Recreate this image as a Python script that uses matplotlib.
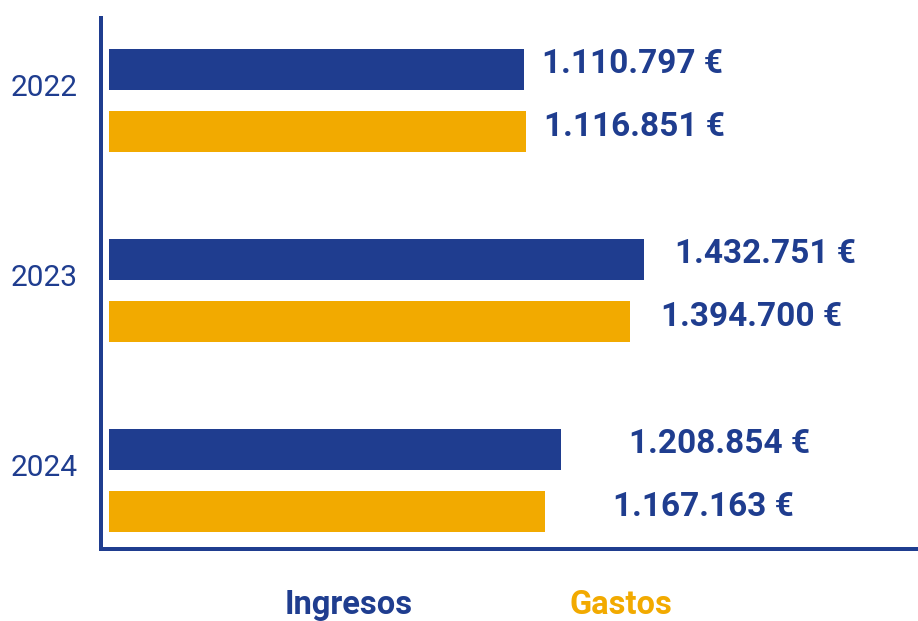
import matplotlib.pyplot as plt
import numpy as np

years = ['2022', '2023', '2024']
ingresos = [1110797, 1432751, 1208854]
gastos = [1116851, 1394700, 1167163]

NAVY = '#1F3D8F'
ORANGE = '#F2AA00'
PX = 72 / 100  # points per pixel at dpi 100


def fmt(v):
    return '{:,}'.format(v).replace(',', '.') + ' €'


plt.rcParams['font.family'] = ['Roboto', 'DejaVu Sans']

fig = plt.figure(figsize=(9.18, 6.21), dpi=100)
ax = fig.add_axes([101 / 918, 1 - 549 / 621, 817 / 918, 531 / 621])

pos = np.arange(len(years))
off = 0.165
h = 0.216
ax.barh(pos - off, ingresos, height=h, color=NAVY)
ax.barh(pos + off, gastos, height=h, color=ORANGE)

# label gaps (px) per year, labels sit a bit above bar centre
pads = [18, 31, 68]
for i in range(len(years)):
    for v, y in ((ingresos[i], pos[i] - off), (gastos[i], pos[i] + off)):
        ax.annotate(fmt(v), (v, y), xytext=(pads[i] * PX, 5 * PX),
                    textcoords='offset points', ha='left', va='center',
                    fontsize=24, fontweight='bold', color=NAVY)

ax.set_xlim(-21400, 2164800)
ax.set_ylim(2.361, -0.434)

ax.set_yticks(pos - 0.079)
ax.set_yticklabels(years, fontsize=21.5, color=NAVY)
ax.tick_params(axis='y', length=0, pad=17)
ax.set_xticks([])

for s in ['top', 'right']:
    ax.spines[s].set_visible(False)
for s in ['left', 'bottom']:
    ax.spines[s].set_color(NAVY)
    ax.spines[s].set_linewidth(4 * PX)

fig.text(349 / 918, 1 - 605 / 621, 'Ingresos', ha='center', va='center',
         fontsize=23.5, fontweight='bold', color=NAVY)
fig.text(621 / 918, 1 - 605 / 621, 'Gastos', ha='center', va='center',
         fontsize=23.5, fontweight='bold', color=ORANGE)

fig.savefig('out.png', dpi=100)
